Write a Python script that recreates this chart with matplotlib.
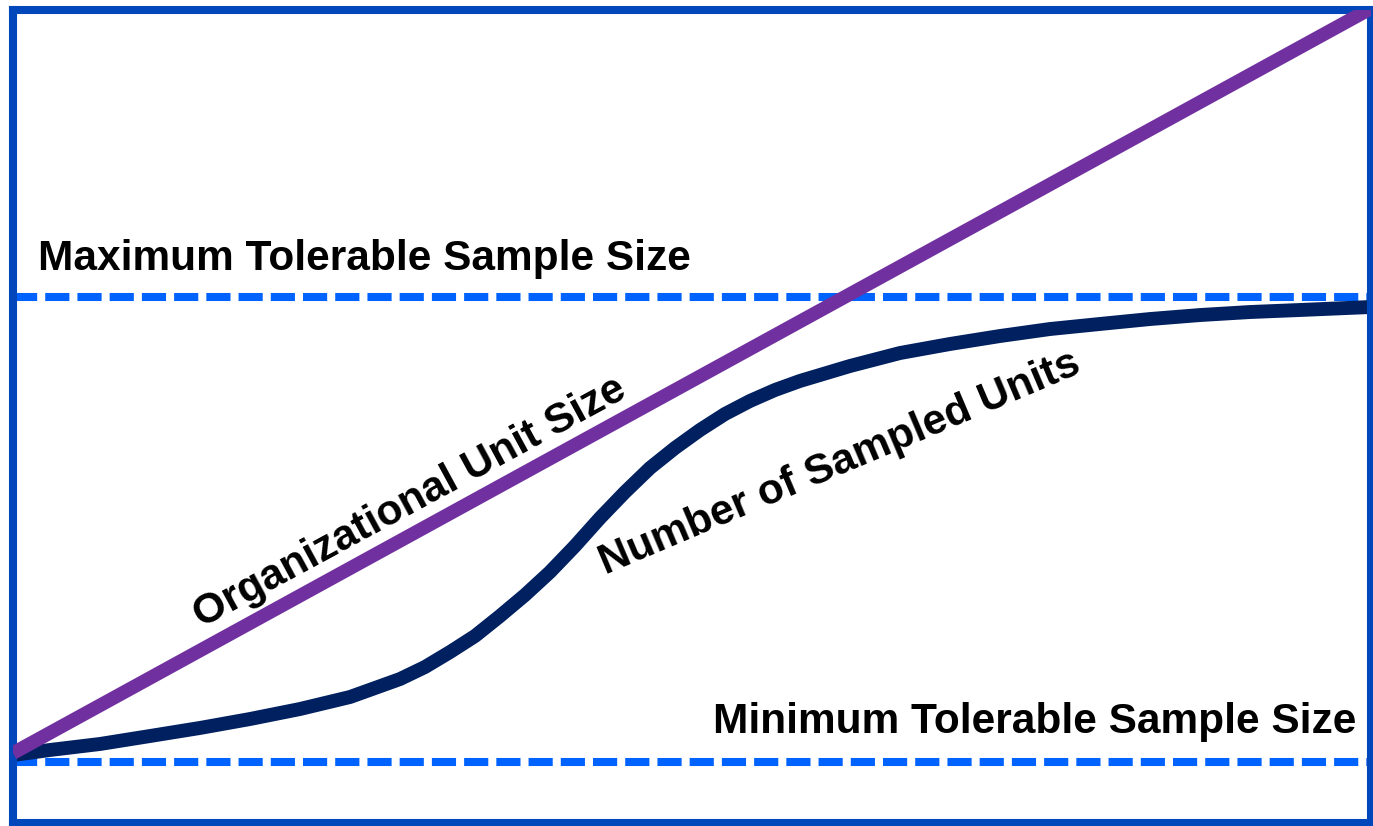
import numpy as np
import matplotlib
matplotlib.use("Agg")
import matplotlib.pyplot as plt

plt.rcParams['font.family'] = ['Liberation Sans', 'DejaVu Sans']

# datos (escala 0-100 dentro del marco)
tamano_x = [0, 100]
tamano_y = [8.6, 100.2]

muestra_x = [0.0, 2.72, 6.41, 10.09, 13.77, 17.45, 21.13, 24.82, 28.50, 30.34,
             32.18, 34.02, 35.86, 37.70, 39.54, 41.38, 43.23, 45.07, 46.91, 48.75,
             50.59, 52.43, 54.27, 56.11, 57.95, 61.63, 65.32, 69.00, 72.68, 76.36,
             80.04, 83.73, 87.41, 91.09, 94.77, 100.0]
muestra_y = [8.36, 8.98, 9.72, 10.70, 11.69, 12.79, 14.02, 15.50, 17.71, 19.19,
             21.03, 23.00, 25.46, 28.04, 30.87, 34.07, 37.52, 40.71, 43.67, 46.13,
             48.34, 50.31, 51.91, 53.26, 54.37, 56.21, 57.81, 58.92, 59.90, 60.76,
             61.38, 61.99, 62.48, 62.85, 63.10, 63.47]

maximo = 64.7
minimo = 7.5

etiqueta_max = "Maximum Tolerable Sample Size"
etiqueta_min = "Minimum Tolerable Sample Size"
etiqueta_tamano = "Organizational Unit Size"
etiqueta_muestra = "Number of Sampled Units"

W, H = 1373, 826
fig = plt.figure(figsize=(W / 100, H / 100), dpi=100)
ax = fig.add_axes([13 / W, 3 / H, 1358 / W, 813 / H])
ax.set_xlim(0, 100)
ax.set_ylim(0, 100)
ax.set_xticks([])
ax.set_yticks([])
for s in ax.spines.values():
    s.set_color('#0047BB')
    s.set_linewidth(5.8)

# lineas de limite
for yv in (maximo, minimo):
    ax.axhline(yv, color='#0062FF', linewidth=5.8, dashes=(3, 1), zorder=1)

# curvas
ax.plot(tamano_x, tamano_y, color='#7030A0', linewidth=9.8, solid_capstyle='butt', zorder=3)
ax.plot(muestra_x, muestra_y, color='#002060', linewidth=10, solid_joinstyle='round',
        solid_capstyle='butt', zorder=2)

fs = 30.5
ax.text(1.84, 68.0, etiqueta_max, fontsize=fs, fontweight='bold', ha='left', va='baseline')
ax.text(98.9, 11.1, etiqueta_min, fontsize=fs, fontweight='bold', ha='right', va='baseline')
ax.text(29.2, 39.4, etiqueta_tamano, fontsize=fs, fontweight='bold', rotation=28.5,
        rotation_mode='anchor', ha='center', va='center')
ax.text(60.9, 44.3, etiqueta_muestra, fontsize=fs, fontweight='bold', rotation=23,
        rotation_mode='anchor', ha='center', va='center')

fig.savefig("out.png", dpi=100)
